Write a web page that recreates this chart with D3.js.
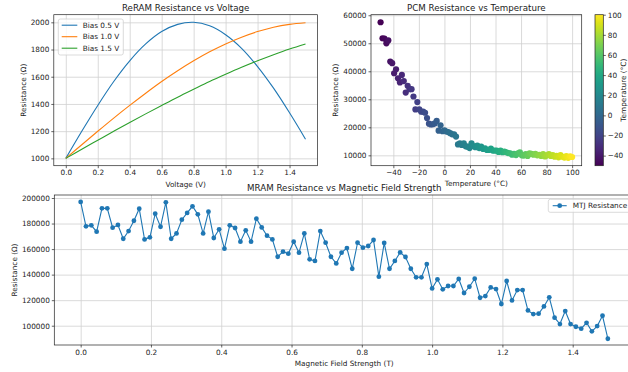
<!DOCTYPE html>
<html>
<head>
<meta charset="utf-8">
<script src="https://cdn.jsdelivr.net/npm/d3@7"></script>
<style>
  body { margin: 0; background: #fff; }
  svg { display: block; font-family: "DejaVu Sans", sans-serif; }
</style>
</head>
<body>
<div id="chart"></div>
<script>
// ReRAM: resistance vs voltage for three biases
const voltage = [0.0, 0.1, 0.2, 0.3, 0.4, 0.5, 0.6, 0.7, 0.8, 0.9, 1.0, 1.1, 1.2, 1.3, 1.4, 1.5];
const bias05 = [1000, 1199, 1389, 1565, 1717, 1841, 1932, 1985, 2000, 1974, 1909, 1809, 1675, 1516, 1335, 1141];
const bias10 = [1000, 1100, 1199, 1296, 1389, 1479, 1565, 1644, 1717, 1783, 1841, 1891, 1932, 1964, 1985, 1997];
const bias15 = [1000, 1067, 1133, 1199, 1264, 1327, 1389, 1450, 1508, 1565, 1618, 1669, 1717, 1762, 1804, 1841];
const biasLabels = ["Bias 0.5 V", "Bias 1.0 V", "Bias 1.5 V"];

// PCM: resistance at evenly spaced temperatures from -50 to 100 °C
const tempRange = [-50, 100];
const pcmResistance = [
  57500, 51800, 51700, 50000, 51000, 43500, 42900, 39300, 40700, 37500,
  36000, 38700, 36500, 32400, 34800, 33600, 33600, 31000, 26400, 29000,
  26400, 25600, 25600, 25200, 23300, 21300, 21000, 21100, 21400, 22300,
  18800, 20700, 18600, 18900, 18500, 18300, 17900, 17500, 17500, 16700,
  13900, 14300, 13700, 14300, 13200, 13100, 12600,
  14300, 13300, 12900, 13500, 12600, 13100, 12300, 12500, 11900, 11900,
  12400, 11700, 11700, 11700, 11200, 11700, 11100, 11300, 11100, 10800,
  10700, 10200, 10500, 10100, 10700, 11100, 10000, 9900, 10400, 9800,
  10700, 10500, 10200, 10500, 10000, 10200, 9800, 10400, 9600, 10000,
  10400, 9800, 10100, 9500, 9800, 9300, 10100, 9500, 9200, 9700, 9100, 9600, 9400
];

// MRAM: MTJ resistance at evenly spaced field values from 0 to 1.5 T
const fieldRange = [0, 1.5];
const mtjResistance = [
  196900, 177800, 178600, 173600, 191900, 191900, 176800, 178900, 168100, 174100,
  182200, 191600, 167600, 169200, 187700, 177500, 196600, 168100, 172300, 183000,
  188300, 193500, 187200, 172300, 189300, 168700, 175500, 160300, 178600, 176500,
  165800, 174700, 165800, 183800, 177000, 170500, 167600, 154000, 158000, 156400,
  165800, 157200, 172300, 152000, 150700, 174100, 165000, 154000, 148800, 157200,
  160800, 144600, 165000, 161100, 162400, 167100, 138400, 164800, 144600, 150700,
  157400, 153800, 144600, 137900, 137900, 148300, 129200, 136300, 128500, 131100,
  131100, 136600, 125600, 130500, 136800, 121900, 123200, 130000, 128700, 117000,
  135000, 119800, 127900, 127900, 112000, 109100, 109400, 115100, 122200, 106300,
  101300, 111500, 101300, 99200, 97700, 102300, 95600, 99700, 107800, 89800
];

// tick values
const voltTicks = [0, 0.2, 0.4, 0.6, 0.8, 1.0, 1.2, 1.4];
const reramTicks = [1000, 1200, 1400, 1600, 1800, 2000];
const tempTicks = [-40, -20, 0, 20, 40, 60, 80, 100];
const pcmTicks = [10000, 20000, 30000, 40000, 50000, 60000];
const fieldTicks = [0, 0.2, 0.4, 0.6, 0.8, 1.0, 1.2, 1.4];
const mtjTicks = [100000, 120000, 140000, 160000, 180000, 200000];

const W = 628, H = 372;
const colors = ["#1f77b4", "#ff7f0e", "#2ca02c"];
const tickFont = 7.3, labelFont = 7.3, titleFont = 8.7;
const minus = (s) => String(s).replace("-", "\u2212");

const svg = d3.select("#chart").append("svg").attr("width", W).attr("height", H);

const boxes = {
  reram: { l: 53.8, r: 317.5, t: 14.7, b: 165.7 },
  pcm: { l: 371, r: 581.7, t: 14.7, b: 165.7 },
  mram: { l: 54.3, r: 634.2, t: 195, b: 345 },
};

// draws grid, ticks and spines for one panel
function frame(box, x, y, xTicks, yTicks, xFmt, yFmt) {
  const g = svg.append("g");
  const w = box.r - box.l, h = box.b - box.t;

  g.append("g")
    .attr("transform", `translate(0,${box.b})`)
    .call(d3.axisBottom(x).tickValues(xTicks).tickSizeInner(-h).tickSizeOuter(0).tickFormat(""))
    .call((a) => a.select(".domain").remove())
    .call((a) => a.selectAll("line").attr("stroke", "#d0d0d0").attr("stroke-width", 0.8));
  g.append("g")
    .attr("transform", `translate(${box.l},0)`)
    .call(d3.axisLeft(y).tickValues(yTicks).tickSizeInner(-w).tickSizeOuter(0).tickFormat(""))
    .call((a) => a.select(".domain").remove())
    .call((a) => a.selectAll("line").attr("stroke", "#d0d0d0").attr("stroke-width", 0.8));

  const ax = g.append("g")
    .attr("transform", `translate(0,${box.b})`)
    .call(d3.axisBottom(x).tickValues(xTicks).tickSizeInner(2.5).tickSizeOuter(0).tickPadding(2).tickFormat(xFmt));
  const ay = g.append("g")
    .attr("transform", `translate(${box.l},0)`)
    .call(d3.axisLeft(y).tickValues(yTicks).tickSizeInner(2.5).tickSizeOuter(0).tickPadding(2).tickFormat(yFmt));
  [ax, ay].forEach((a) => {
    a.select(".domain").remove();
    a.attr("font-family", null).attr("font-size", tickFont);
    a.selectAll("line").attr("stroke", "#222").attr("stroke-width", 0.7);
    a.selectAll("text").attr("fill", "#222");
  });
  return g;
}

function spines(box) {
  svg.append("rect")
    .attr("x", box.l).attr("y", box.t)
    .attr("width", box.r - box.l).attr("height", box.b - box.t)
    .attr("fill", "none").attr("stroke", "#222").attr("stroke-width", 0.7);
}

function text(x, y, str, size, rotate) {
  return svg.append("text")
    .attr("transform", `translate(${x},${y})` + (rotate ? ` rotate(${rotate})` : ""))
    .attr("text-anchor", "middle")
    .attr("dy", "0.35em")
    .attr("font-size", size)
    .attr("fill", "#222")
    .text(str);
}

// ---------- ReRAM ----------
{
  const box = boxes.reram;
  const x = d3.scaleLinear().domain([-0.075, 1.575]).range([box.l, box.r]);
  const y = d3.scaleLinear().domain([946, 2056]).range([box.b, box.t]);
  frame(box, x, y, voltTicks, reramTicks, d3.format(".1f"), d3.format("d"));

  const line = d3.line().x((d) => x(d[0])).y((d) => y(d[1])).curve(d3.curveCatmullRom);
  [bias05, bias10, bias15].forEach((s, k) => {
    svg.append("path")
      .attr("d", line(voltage.map((v, i) => [v, s[i]])))
      .attr("fill", "none")
      .attr("stroke", colors[k])
      .attr("stroke-width", 1.1);
  });
  spines(box);

  // legend
  const lg = svg.append("g").attr("transform", "translate(58.3,19)");
  lg.append("rect").attr("width", 65).attr("height", 36).attr("rx", 2)
    .attr("fill", "#fff").attr("fill-opacity", 0.8).attr("stroke", "#ccc").attr("stroke-width", 0.7);
  biasLabels.forEach((lab, k) => {
    const yy = 6.2 + k * 11.5;
    lg.append("line").attr("x1", 3.4).attr("x2", 19).attr("y1", yy).attr("y2", yy)
      .attr("stroke", colors[k]).attr("stroke-width", 1.1);
    lg.append("text").attr("x", 24.4).attr("y", yy).attr("dy", "0.35em")
      .attr("font-size", labelFont).attr("fill", "#222").text(lab);
  });

  text((box.l + box.r) / 2, 7.5, "ReRAM Resistance vs Voltage", titleFont);
  text((box.l + box.r) / 2, 184, "Voltage (V)", labelFont);
  text(23.3, (box.t + box.b) / 2, "Resistance (\u03a9)", labelFont, -90);
}

// ---------- PCM ----------
{
  const box = boxes.pcm;
  const x = d3.scaleLinear().domain([-57.5, 107.5]).range([box.l, box.r]);
  const y = d3.scaleLinear().domain([6300, 60200]).range([box.b, box.t]);
  frame(box, x, y, tempTicks, pcmTicks, minus, d3.format("d"));

  const n = pcmResistance.length;
  const temps = pcmResistance.map((_, i) => tempRange[0] + (i * (tempRange[1] - tempRange[0])) / (n - 1));
  const color = d3.scaleSequential(d3.interpolateViridis).domain(tempRange);

  svg.append("g")
    .selectAll("circle")
    .data(pcmResistance)
    .join("circle")
    .attr("cx", (d, i) => x(temps[i]))
    .attr("cy", (d) => y(d))
    .attr("r", 3.1)
    .attr("fill", (d, i) => color(temps[i]));
  spines(box);

  // colorbar
  const cb = { l: 595, r: 603.3, t: 14.7, b: 165.7 };
  const cy = d3.scaleLinear().domain(tempRange).range([cb.b, cb.t]);
  const grad = svg.append("defs").append("linearGradient")
    .attr("id", "viridis").attr("x1", 0).attr("x2", 0).attr("y1", 1).attr("y2", 0);
  d3.range(0, 1.0001, 0.05).forEach((t) => {
    grad.append("stop").attr("offset", t).attr("stop-color", d3.interpolateViridis(t));
  });
  svg.append("rect")
    .attr("x", cb.l).attr("y", cb.t).attr("width", cb.r - cb.l).attr("height", cb.b - cb.t)
    .attr("fill", "url(#viridis)").attr("stroke", "#222").attr("stroke-width", 0.7);
  const cax = svg.append("g")
    .attr("transform", `translate(${cb.r},0)`)
    .call(d3.axisRight(cy).tickValues(tempTicks).tickSizeInner(2.5).tickSizeOuter(0).tickPadding(2).tickFormat(minus));
  cax.select(".domain").remove();
  cax.attr("font-family", null).attr("font-size", tickFont);
  cax.selectAll("line").attr("stroke", "#222").attr("stroke-width", 0.7);
  cax.selectAll("text").attr("fill", "#222");

  text((box.l + box.r) / 2, 7.5, "PCM Resistance vs Temperature", titleFont);
  text((box.l + box.r) / 2, 183.5, "Temperature (\u00b0C)", labelFont);
  text(335, (box.t + box.b) / 2, "Resistance (\u03a9)", labelFont, -90);
  text(623.5, (cb.t + cb.b) / 2, "Temperature (\u00b0C)", labelFont, -90);
}

// ---------- MRAM ----------
{
  const box = boxes.mram;
  const x = d3.scaleLinear().domain([-0.075, 1.575]).range([box.l, box.r]);
  const y = d3.scaleLinear().domain([84900, 202350]).range([box.b, box.t]);
  frame(box, x, y, fieldTicks, mtjTicks, d3.format(".1f"), d3.format("d"));

  const n = mtjResistance.length;
  const field = mtjResistance.map((_, i) => fieldRange[0] + (i * (fieldRange[1] - fieldRange[0])) / (n - 1));
  const line = d3.line().x((d, i) => x(field[i])).y((d) => y(d));

  svg.append("path")
    .attr("d", line(mtjResistance))
    .attr("fill", "none")
    .attr("stroke", colors[0])
    .attr("stroke-width", 1.1);
  svg.append("g")
    .selectAll("circle")
    .data(mtjResistance)
    .join("circle")
    .attr("cx", (d, i) => x(field[i]))
    .attr("cy", (d) => y(d))
    .attr("r", 2.4)
    .attr("fill", colors[0]);
  spines(box);

  // legend
  const lg = svg.append("g").attr("transform", "translate(548.3,199.3)");
  lg.append("rect").attr("width", 90).attr("height", 13).attr("rx", 2)
    .attr("fill", "#fff").attr("fill-opacity", 0.8).attr("stroke", "#ccc").attr("stroke-width", 0.7);
  lg.append("line").attr("x1", 4.4).attr("x2", 18.4).attr("y1", 6.4).attr("y2", 6.4)
    .attr("stroke", colors[0]).attr("stroke-width", 1.1);
  lg.append("circle").attr("cx", 11.4).attr("cy", 6.4).attr("r", 2.4).attr("fill", colors[0]);
  lg.append("text").attr("x", 24.4).attr("y", 6.4).attr("dy", "0.35em")
    .attr("font-size", labelFont).attr("fill", "#222").text("MTJ Resistance");

  text((box.l + box.r) / 2, 187.5, "MRAM Resistance vs Magnetic Field Strength", titleFont);
  text((box.l + box.r) / 2, 363.3, "Magnetic Field Strength (T)", labelFont);
  text(14, (box.t + box.b) / 2, "Resistance (\u03a9)", labelFont, -90);
}
</script>
</body>
</html>
